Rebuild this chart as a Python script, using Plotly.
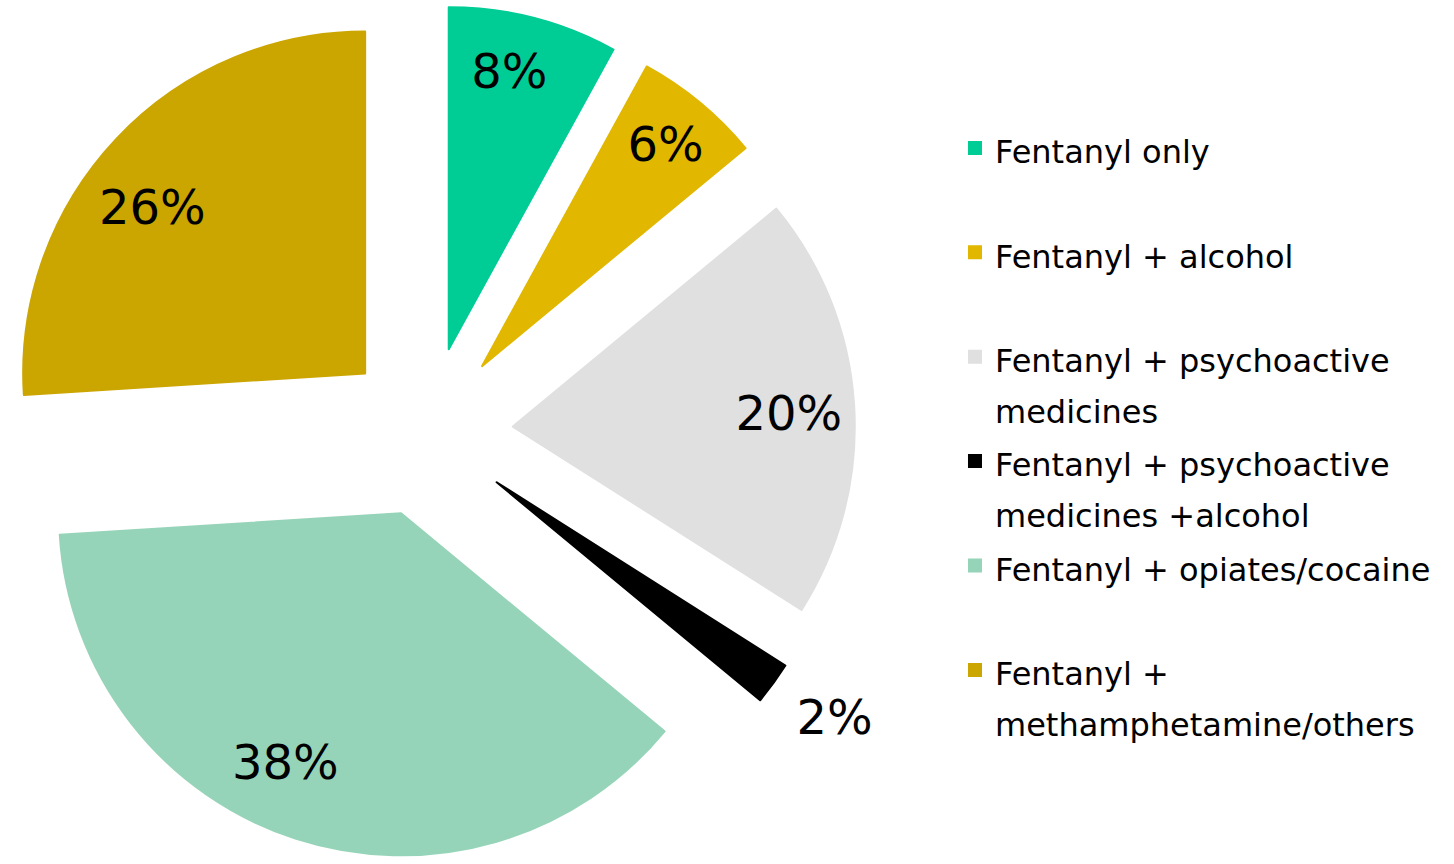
import plotly.graph_objects as go

categories = [
    "Fentanyl only",
    "Fentanyl + alcohol",
    "Fentanyl + psychoactive<br>medicines",
    "Fentanyl + psychoactive<br>medicines +alcohol",
    "Fentanyl + opiates/cocaine",
    "Fentanyl +<br>methamphetamine/others",
]
values = [8, 6, 20, 2, 38, 26]
colors = ["#00CC96", "#E1B700", "#E0E0E0", "#000000", "#96D4B9", "#CBA500"]
text_positions = ["inside", "inside", "inside", "outside", "inside", "inside"]

# label placement padding (style only):
# (nbsp before, nbsp after, blank lines above, blank lines below, small spacer line above)
label_pad = [
    (0, 1, 0, 1, True),
    (0, 0, 0, 0, False),
    (8, 0, 0, 0, False),
    (0, 0, 0, 0, True),
    (0, 8, 2, 0, True),
    (0, 9, 0, 1, False),
]

FONT = "DejaVu Sans, Verdana, sans-serif"
LEGEND_TEXT_SIZE = 32
NB = "\u00a0"


def legend_label(cat):
    lines = cat.split("<br>")
    spans = [f'<span style="font-size:{LEGEND_TEXT_SIZE}px">{ln}</span>' for ln in lines]
    while len(spans) < 2:
        spans.append(" ")
    return "<br>".join(spans)


def pct_label(v, pad):
    before, after, above, below, small_above = pad
    core = NB * before + f"{v}%" + NB * after
    lines = [NB] * above + [core] + [NB] * below
    if small_above:
        lines = [f'<span style="font-size:20px">{NB}</span>'] + lines
    return "<br>".join(lines)


labels = [legend_label(c) for c in categories]
texts = [pct_label(v, p) for v, p in zip(values, label_pad)]

fig = go.Figure(
    go.Pie(
        labels=labels,
        values=values,
        text=texts,
        sort=False,
        direction="clockwise",
        rotation=0,
        pull=[0.25] * len(values),
        marker=dict(colors=colors, line=dict(width=2, color=colors)),
        texttemplate="%{text}",
        textposition=text_positions,
        insidetextorientation="horizontal",
        textfont=dict(family=FONT, size=48, color="black"),
        insidetextfont=dict(family=FONT, size=48, color="black"),
        outsidetextfont=dict(family=FONT, size=48, color="black"),
        domain=dict(x=[0, 0.588], y=[0, 1]),
        hoverinfo="skip",
    )
)

fig.update_layout(
    width=1454,
    height=864,
    margin=dict(l=0, r=0, t=0, b=0, autoexpand=False),
    paper_bgcolor="white",
    plot_bgcolor="white",
    font=dict(family=FONT, color="black"),
    uniformtext=dict(minsize=48, mode="show"),
    legend=dict(
        x=0.6568,
        xanchor="left",
        y=0.8657,
        yanchor="top",
        valign="top",
        font=dict(family=FONT, size=39, color="black"),
        bgcolor="rgba(0,0,0,0)",
        borderwidth=0,
    ),
    showlegend=True,
)

fig.write_html(
    "out.html",
    config={"displayModeBar": False},
    post_script="document.body.style.margin = '0px';",
)
